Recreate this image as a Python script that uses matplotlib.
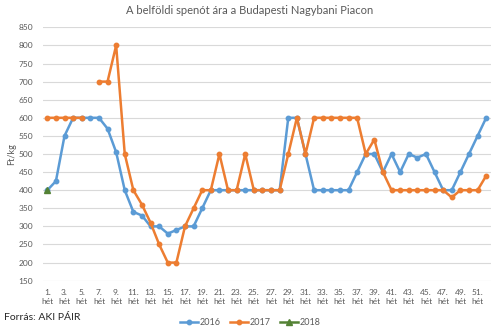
import numpy as np
import matplotlib
matplotlib.use("Agg")
import matplotlib.pyplot as plt
from matplotlib.lines import Line2D

plt.rcParams['font.family'] = ['Lato', 'DejaVu Sans']

weeks = list(range(1, 53))
tick_labels = [f"{w}.\nhét" if w % 2 == 1 else "" for w in weeks]

price_2016 = [400, 425, 550, 600, 600, 600, 600, 570, 505, 400,
              340, 330, 300, 300, 280, 290, 300, 300, 350, 400,
              400, 400, 400, 400, 400, 400, 400, 400, 600, 600,
              500, 400, 400, 400, 400, 400, 450, 500, 500, 450,
              500, 450, 500, 490, 500, 450, 400, 400, 450, 500,
              550, 600]
price_2017 = [600, 600, 600, 600, 600, None, 700, 700, 800, 500,
              400, 360, 310, 250, 200, 200, 300, 350, 400, 400,
              500, 400, 400, 500, 400, 400, 400, 400, 500, 600,
              500, 600, 600, 600, 600, 600, 600, 500, 540, 450,
              400, 400, 400, 400, 400, 400, 400, 380, 400, 400,
              400, 440]
price_2018 = [400]

series_names = ["2016", "2017", "2018"]
colors = ["#5B9BD5", "#ED7D31", "#548235"]

def to_arr(vals):
    return np.array([np.nan if v is None else v for v in vals], dtype=float)

fig = plt.figure(figsize=(5.0, 3.31), dpi=100)
ax = fig.add_axes([0.086, 0.152, 0.895, 0.7655])

ax.plot(weeks, to_arr(price_2016), color=colors[0], lw=1.8, marker='o', ms=3.2, zorder=3)
ax.plot(weeks, to_arr(price_2017), color=colors[1], lw=1.8, marker='o', ms=3.2, zorder=4)
ax.plot(weeks[:len(price_2018)], price_2018, color=colors[2], lw=1.8, marker='^', ms=4.5, zorder=5)

ax.set_xlim(0.5, 52.5)
ax.set_ylim(150, 850)
ax.set_yticks(np.arange(150, 851, 50))
ax.set_xticks(weeks)
ax.set_xticklabels(tick_labels, linespacing=1.3)
ax.grid(axis='y', color='#D9D9D9', lw=0.8)
ax.set_axisbelow(True)
for s in ax.spines.values():
    s.set_visible(False)
ax.tick_params(axis='both', length=0, labelsize=6, colors='#595959')
ax.tick_params(axis='x', pad=6)
ax.tick_params(axis='y', pad=7)

ax.set_ylabel("Ft/kg", fontsize=6.5, color='#595959', labelpad=2)

fig.text(0.5, 0.968, "A belföldi spenót ára a Budapesti Nagybani Piacon",
         ha='center', va='center', fontsize=8, color='#595959')
fig.text(0.008, 0.04, "Forrás: AKI PÁIR", ha='left', va='center',
         fontsize=7.5, color='#262626')

handles = [Line2D([], [], color=colors[0], lw=1.8, marker='o', ms=3.2),
           Line2D([], [], color=colors[1], lw=1.8, marker='o', ms=3.2),
           Line2D([], [], color=colors[2], lw=1.8, marker='^', ms=4)]
fig.legend(handles, series_names, loc='center', bbox_to_anchor=(0.5, 0.025),
           ncol=3, frameon=False, fontsize=6.5, handlelength=2.0,
           columnspacing=1.0, handletextpad=0.2, labelcolor='#595959')

fig.savefig("out.png", dpi=100)
